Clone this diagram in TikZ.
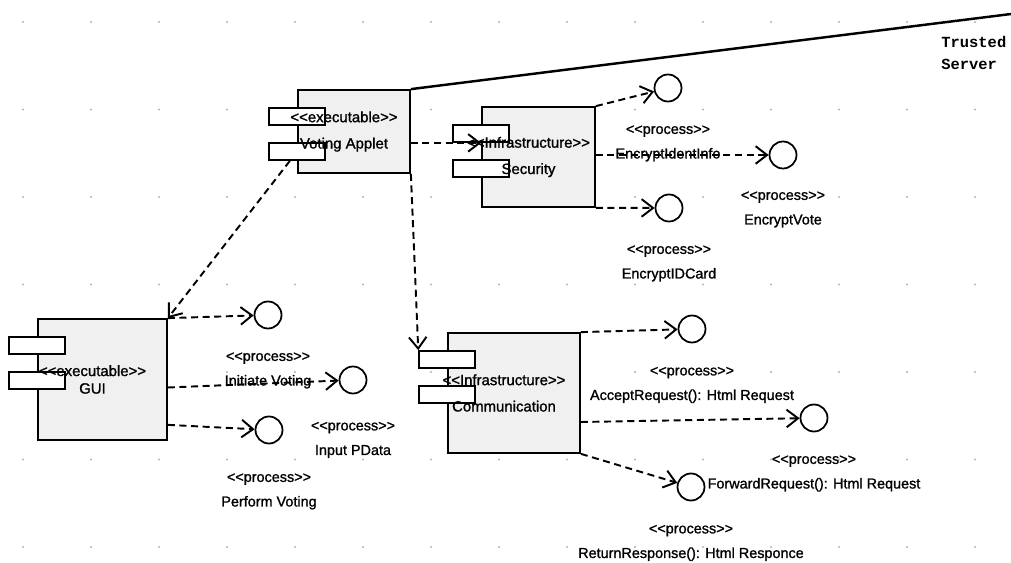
\documentclass[tikz,border=0pt]{standalone}
\usepackage{fontspec}
\setmainfont{Liberation Sans}[FakeBold=1.2]
\newfontfamily\srvfont{Liberation Mono}
\usetikzlibrary{arrows.meta,positioning,calc}
\newcommand{\stereo}[1]{<{}<#1>{}>}

\begin{document}
\begin{tikzpicture}[x=0.02cm, y=-0.02cm, node distance=2cm, auto]
    % Styles
    \tikzstyle{comp} = [rectangle, draw, line width=1pt, fill=gray!12, inner sep=0pt]
    \tikzstyle{tab} = [rectangle, draw, line width=1pt, fill=white, minimum width=11.2mm, minimum height=3.4mm, inner sep=0pt]
    \tikzstyle{comptext} = [align=center, xshift=-2mm, font=\fontsize{8.5}{15}\selectfont]
    \tikzstyle{iface} = [circle, draw, line width=1pt, fill=white, minimum size=5.4mm, inner sep=0pt]
    \tikzstyle{proclabel} = [align=center, font=\fontsize{8.2}{14}\selectfont, inner sep=1pt]
    \tikzstyle{dep} = [line width=1.1pt, dash pattern=on 4pt off 2.6pt, -{Straight Barb[length=6.5pt,width=10pt]}]
    \tikzstyle{boundary} = [line width=1.4pt]
    \tikzstyle{srvtext} = [align=left, font=\srvfont\bfseries\fontsize{8.8}{12.5}\selectfont, inner sep=0pt]

    \useasboundingbox (0,0) rectangle (1011,563);
    \fill[white] (0,0) rectangle (1011,563);

    % Grid
    \foreach \gx in {23,91,...,1011}
        \foreach \gy in {22,109.5,...,560}
            \fill[gray!60] (\gx,\gy) circle (0.6pt);

    % Components
    \node [comp, minimum width=22.4mm, minimum height=16.6mm] (va) at (354,131.5) {};
    \node [tab, below=3.6mm of va.north west] (va-t1) {};
    \node [tab, below=10.6mm of va.north west] (va-t2) {};
    \node [comptext] (va-txt) at (va) {\stereo{executable}\\Voting Applet};

    \node [comp, minimum width=22.6mm, minimum height=20mm] (sec) at (538.5,157) {};
    \node [tab, below=3.6mm of sec.north west] (sec-t1) {};
    \node [tab, below=10.6mm of sec.north west] (sec-t2) {};
    \node [comptext] (sec-txt) at (sec) {\stereo{Infrastructure}\\Security};

    \node [comp, minimum width=25.8mm, minimum height=24.2mm] (gui) at (102.5,379.5) {};
    \node [tab, below=3.6mm of gui.north west] (gui-t1) {};
    \node [tab, below=10.6mm of gui.north west] (gui-t2) {};
    \node [comptext] (gui-txt) at (gui) {\stereo{executable}\\[-5pt]GUI};

    \node [comp, minimum width=26.4mm, minimum height=24mm] (comm) at (514,393) {};
    \node [tab, below=3.6mm of comm.north west] (comm-t1) {};
    \node [tab, below=10.6mm of comm.north west] (comm-t2) {};
    \node [comptext] (comm-txt) at (comm) {\stereo{Infrastructure}\\Communication};

    % Interfaces
    \node [iface] (ii) at (668,88) {};
    \node [iface] (ev) at (783,155) {};
    \node [iface] (idc) at (669,208) {};
    \node [iface] (iv) at (268,315) {};
    \node [iface] (ipd) at (353,380) {};
    \node [iface] (pv) at (269,430) {};
    \node [iface] (ar) at (692,329) {};
    \node [iface] (fr) at (814,418) {};
    \node [iface] (rr) at (691,487) {};

    % Arrows
    \draw [dep] (va-t2) -- (gui.north east);
    \draw [dep] (va.east |- sec-t1.south) -- (sec.west |- sec-t1.south);
    \draw [dep] (va.south east) -- (comm-t1.north west);
    \draw [dep] (sec.north east) -- (ii);
    \draw [dep] (sec.east |- ev) -- (ev);
    \draw [dep] (sec.south east) -- (idc);
    \draw [dep] (gui.north east) -- (iv);
    \draw [dep] ($(gui.east)+(0,8)$) -- (ipd);
    \draw [dep] ($(gui.south east)+(0,-16)$) -- (pv);
    \draw [dep] (comm.north east) -- (ar);
    \draw [dep] ($(comm.east)+(0,29)$) -- (fr);
    \draw [dep] (comm.south east) -- (rr);

    % Labels
    \node [proclabel, below=4.2mm of ii] (ii-lbl) {\stereo{process}\\EncryptIdentInfo};
    \node [proclabel, below=4mm of ev] (ev-lbl) {\stereo{process}\\EncryptVote};
    \node [proclabel, below=4.2mm of idc] (idc-lbl) {\stereo{process}\\EncryptIDCard};
    \node [proclabel, below=4.2mm of iv] (iv-lbl) {\stereo{process}\\Initiate Voting};
    \node [proclabel, below=5.1mm of ipd] (ipd-lbl) {\stereo{process}\\Input PData};
    \node [proclabel, below=5.4mm of pv] (pv-lbl) {\stereo{process}\\Perform Voting};
    \node [proclabel, below=4.3mm of ar] (ar-lbl) {\stereo{process}\\AcceptRequest(): Html Request};
    \node [proclabel, below=4.2mm of fr] (fr-lbl) {\stereo{process}\\ForwardRequest(): Html Request};
    \node [proclabel, below=4.3mm of rr] (rr-lbl) {\stereo{process}\\ReturnResponse(): Html Responce};

    % Boundary
    \coordinate (srv-end) at (1011,14);
    \draw [boundary] (va.north east) -- (srv-end);
    \node [srvtext, anchor=north west] (srv) at (941,36) {Trusted\\Server};
\end{tikzpicture}
\end{document}
